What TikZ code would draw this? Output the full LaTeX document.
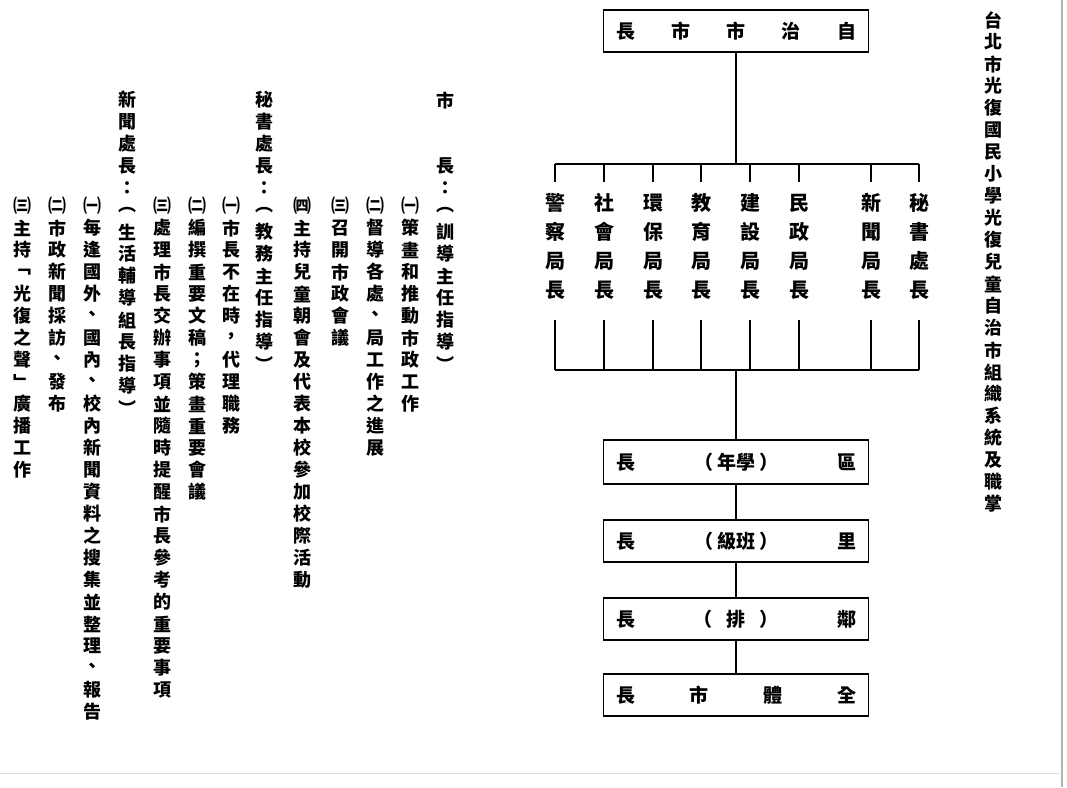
\documentclass[tikz,border=0pt]{standalone}
\usepackage{fontspec}
\setmainfont{Noto Sans CJK TC}
\usetikzlibrary{calc}
\ExplSyntaxOn
\NewDocumentCommand\vcol{O{22pt}m}
 {
  \vbox:n
   {
    \offinterlineskip
    \tl_map_inline:nn {#2}
     { \hbox_to_wd:nn {1.1em} { \hss \vbox_to_ht:nn {#1} { \vss \hbox:n {##1} \vss } \hss } }
   }
 }
\ExplSyntaxOff
\begin{document}
\begin{tikzpicture}[x=1pt,y=-1pt,
  vt/.style={inner sep=0pt, outer sep=0pt, anchor=north, font=\bfseries\fontsize{18}{18}\selectfont},
  bur/.style={inner sep=0pt, outer sep=0pt, anchor=north, font=\bfseries\fontsize{20}{20}\selectfont},
  box/.style={draw, line width=1.6pt, minimum width=265pt, minimum height=42pt, inner sep=0pt,
    font=\bfseries\fontsize{19}{19}\selectfont},
  conn/.style={line width=1.3pt}]
\useasboundingbox (0,0) rectangle (1067,787);
% page edges of the scan
\draw[gray!60, line width=1.2pt] (1062,0) -- (1062,787);
\draw[gray!25, line width=0.8pt] (0,773) -- (1062,773);
% title
\node[vt] (title) at (993,9) {\vcol{台北市光復國民小學光復兒童自治市組織系統及職掌}};
% boxes
\node[box] (top) at (736,31) {\hbox to 240pt{長\hfil 市\hfil 市\hfil 治\hfil 自}};
\node[box, minimum height=44pt] (qu) at (736,462) {\hbox to 240pt{長\hfil（\hspace{4pt}年學\hspace{4pt}）\hfil 區}};
\node[box] (li) at (736,541) {\hbox to 240pt{長\hfil（\hspace{4pt}級班\hspace{4pt}）\hfil 里}};
\node[box] (lin) at (736,619) {\hbox to 240pt{長\hfil（\hspace{14pt}排\hspace{14pt}）\hfil 鄰}};
\node[box] (all) at (736,695) {\hbox to 240pt{長\hfil 市\hfil 體\hfil 全}};
% bureaus
\node[bur] (b1) at (555,188.5) {\vcol[29pt]{警察局長}};
\node[bur] (b2) at (604,188.5) {\vcol[29pt]{社會局長}};
\node[bur] (b3) at (653,188.5) {\vcol[29pt]{環保局長}};
\node[bur] (b4) at (701,188.5) {\vcol[29pt]{教育局長}};
\node[bur] (b5) at (750,188.5) {\vcol[29pt]{建設局長}};
\node[bur] (b6) at (799,188.5) {\vcol[29pt]{民政局長}};
\node[bur] (b7) at (871,188.5) {\vcol[29pt]{新聞局長}};
\node[bur] (b8) at (919,188.5) {\vcol[29pt]{秘書處長}};
\coordinate (busT) at (736,164);
\coordinate (busB) at (736,370);
% connectors
\draw[conn] (top.south) -- (busT);
\draw[conn] (b1 |- busT) -- (b8 |- busT);
\draw[conn] (b1 |- busB) -- (b8 |- busB);
\foreach \b in {b1,b2,b3,b4,b5,b6,b7,b8}{
  \draw[conn] (\b |- busT) -- ($(\b.north)+(0,-6.5)$);
  \draw[conn] ($(\b.south)+(0,15.5)$) -- (\b |- busB);
}
\draw[conn] (busB) -- (qu.north);
\draw[conn] (qu.south) -- (li.north);
\draw[conn] (li.south) -- (lin.north);
\draw[conn] (lin.south) -- (all.north);
% duties, vertical text
\node[vt] (cA) at (445,89) {\vcol{市{}{}長：︵訓導主任指導︶}};
\node[vt] (cB) at (410,195) {\vcol{㈠策畫和推動市政工作}};
\node[vt] (cC) at (375,195) {\vcol{㈡督導各處、局工作之進展}};
\node[vt] (cD) at (340,195) {\vcol{㈢召開市政會議}};
\node[vt] (cE) at (302,195) {\vcol{㈣主持兒童朝會及代表本校參加校際活動}};
\node[vt] (cF) at (264,89) {\vcol{秘書處長：︵教務主任指導︶}};
\node[vt] (cG) at (231,195) {\vcol{㈠市長不在時，代理職務}};
\node[vt] (cH) at (197,195) {\vcol{㈡編撰重要文稿；策畫重要會議}};
\node[vt] (cI) at (162,195) {\vcol{㈢處理市長交辦事項並隨時提醒市長參考的重要事項}};
\node[vt] (cJ) at (127,89) {\vcol{新聞處長：︵生活輔導組長指導︶}};
\node[vt] (cK) at (92,195) {\vcol{㈠每逢國外、國內、校內新聞資料之搜集並整理、報告}};
\node[vt] (cL) at (57,195) {\vcol{㈡市政新聞採訪、發布}};
\node[vt] (cM) at (22,195) {\vcol{㈢主持﹁光復之聲﹂廣播工作}};
\end{tikzpicture}
\end{document}
